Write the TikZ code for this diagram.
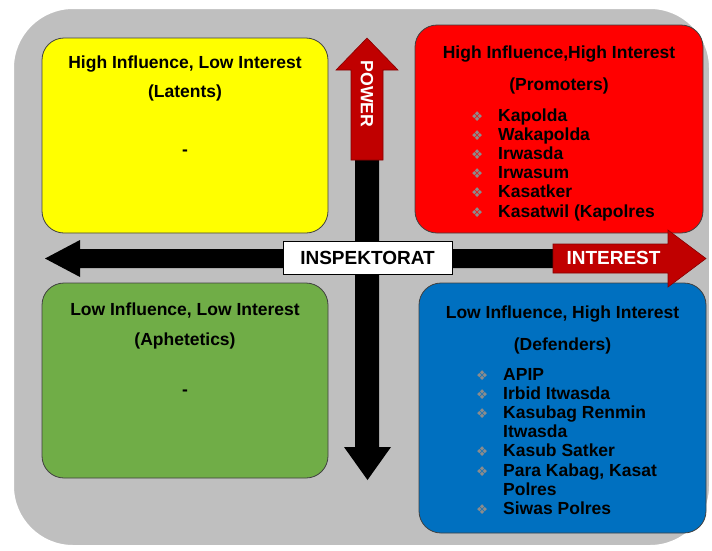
\documentclass[tikz,border=0pt]{standalone}
\usepackage{fontspec}
\setmainfont{Liberation Sans}
\newfontfamily\dejavu{DejaVu Sans}
\usetikzlibrary{positioning}

\definecolor{bggray}{RGB}{191,191,191}
\definecolor{quadyellow}{RGB}{255,255,0}
\definecolor{quadred}{RGB}{255,0,0}
\definecolor{quadgreen}{RGB}{112,173,71}
\definecolor{quadblue}{RGB}{0,112,192}
\definecolor{arrowred}{RGB}{192,0,0}

\newcommand{\bul}{\makebox[27pt][l]{\dejavu\fontsize{13.5}{13.5}\selectfont\textcolor{black!45}{❖}}}
\newcommand{\cont}{\hspace*{27pt}}

\tikzset{
  quad/.style={draw=black!75, line width=.8pt, rounded corners=22pt, inner sep=0pt},
  heading/.style={font=\fontsize{17.5}{19}\selectfont\bfseries, inner sep=0pt, anchor=base},
  members/.style={font=\fontsize{17.5}{19.2}\selectfont\bfseries, align=left, anchor=north west, inner sep=0pt},
  axislabel/.style={font=\fontsize{19}{19}\selectfont\bfseries, text=white, inner sep=0pt}
}

\begin{document}
\begin{tikzpicture}[x=1pt, y=-1pt]
        \useasboundingbox (0,0) rectangle (712,550);
        \fill[white] (0,0) rectangle (712,550);
        \coordinate (cross) at (367.5,257.5);

        % background panel
        \filldraw[fill=bggray, draw=white, line width=2pt, rounded corners=60pt] (13,8) rectangle (710,546);

        % quadrants
        \node[quad, fill=quadyellow, minimum width=286, minimum height=195] (latents) at (185,135.5) {};
        \node[quad, fill=quadred, minimum width=288, minimum height=208] (promoters) at (559,129) {};
        \node[quad, fill=quadgreen, minimum width=286, minimum height=195] (aphetetics) at (185,380.5) {};
        \node[quad, fill=quadblue, minimum width=287, minimum height=250] (defenders) at (562.5,408) {};

        % axes
        \fill[black] (45,258.5) -- (80,240) -- (80,249) -- (600,249) -- (600,268) -- (80,268) -- (80,277) -- cycle;
        \fill[black] (355,150) -- (379,150) -- (379,447) -- (391,447) -- (367.5,480) -- (344,447) -- (355,447) -- cycle;
        \filldraw[fill=arrowred, draw=arrowred!70!black, line width=.6pt]
          (553,244) -- (668,244) -- (668,230) -- (706,258.5) -- (668,287) -- (668,273) -- (553,273) -- cycle;
        \filldraw[fill=arrowred, draw=arrowred!70!black, line width=.6pt]
          (351,160) -- (351,70) -- (336,70) -- (367,38) -- (398,70) -- (383,70) -- (383,160) -- cycle;

        \node[draw, line width=.8pt, fill=white, minimum width=169, minimum height=33, inner sep=0pt,
          font=\fontsize{19}{19}\selectfont\bfseries] (inspektorat) at (cross) {INSPEKTORAT};
        \node[axislabel] (interest) at (613.5,258) {INTEREST};
        \node[axislabel, font=\fontsize{17.7}{17.7}\selectfont\bfseries, rotate=-90] (power) at (367,94) {POWER};

        % texts
        \node[heading] (latentstitle) at (185,68) {High Influence, Low Interest};
        \node[heading] (latentsname) at (185,97) {(Latents)};
        \node[heading] (latentsnone) at (185,155) {-};

        \node[heading] (promoterstitle) at (559,58) {High Influence,High Interest};
        \node[heading] (promotersname) at (559,90) {(Promoters)};
        \node[members] (promoterslist) at (471,107.5) {\strut\bul Kapolda\\ \bul Wakapolda\\ \bul Irwasda\\
          \bul Irwasum\\ \bul Kasatker\\ \bul Kasatwil (Kapolres};

        \node[heading] (aphetetictitle) at (185,315) {Low Influence, Low Interest};
        \node[heading] (apheteticname) at (185,345) {(Aphetetics)};
        \node[heading] (apheteticnone) at (185,395) {-};

        \node[heading] (defenderstitle) at (562.5,318) {Low Influence, High Interest};
        \node[heading] (defendersname) at (562.5,350) {(Defenders)};
        \node[members] (defenderslist) at (476,366.5) {\strut\bul APIP\\ \bul Irbid Itwasda\\ \bul Kasubag Renmin\\
          \cont Itwasda\\ \bul Kasub Satker\\ \bul Para Kabag, Kasat\\ \cont Polres\\ \bul Siwas Polres};
\end{tikzpicture}
\end{document}
